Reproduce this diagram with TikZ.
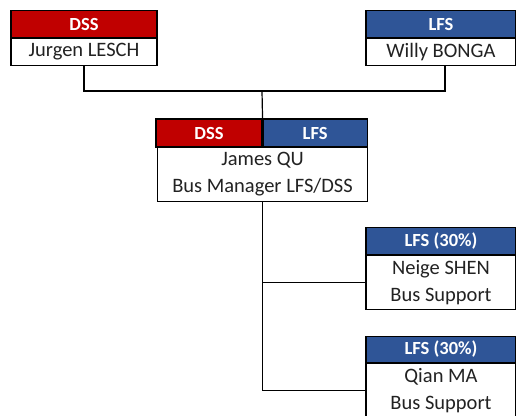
\documentclass[tikz,border=0pt]{standalone}
\usepackage{fontspec}
\setmainfont{Carlito}
\usepackage{tikz}
\usetikzlibrary{positioning,calc}
\definecolor{dssred}{HTML}{C00000}
\definecolor{lfsblue}{HTML}{2F5597}
\definecolor{txtgray}{HTML}{222222}

\begin{document}
\begin{tikzpicture}[x=1pt, y=-1pt, node distance=0pt]
  % styles
  \tikzstyle{hdr}=[rectangle, draw=black, line width=1.1pt, inner sep=0pt, minimum height=26.5pt, text=white, font=\fontsize{18.5}{20}\selectfont\bfseries];
  \tikzstyle{hdrred}=[hdr, fill=dssred];
  \tikzstyle{hdrblue}=[hdr, fill=lfsblue];
  \tikzstyle{body}=[rectangle, draw=black, line width=1.1pt, fill=white, inner sep=0pt, align=center, text=txtgray, font=\fontsize{20.5}{27}\selectfont];
  \tikzstyle{link}=[draw=black, line width=1.2pt];

  \useasboundingbox (0,0) rectangle (516,415);
  \clip (0,0) rectangle (516,415);
  \fill[white] (0,0) rectangle (516,415);

  %==================== TOP ROW ====================
  \node[hdrred, minimum width=146pt] (jurgenH) at (84,24) {DSS};
  \node[body, below=of jurgenH, minimum width=146pt, minimum height=27pt] (jurgen) {Jurgen LESCH};
  \node[hdrblue, minimum width=150pt] (willyH) at (441,24) {LFS};
  \node[body, below=of willyH, minimum width=150pt, minimum height=27pt] (willy) {Willy BONGA};

  %==================== MANAGER ====================
  \node[hdrred, minimum width=106pt, minimum height=28pt] (jamesD) at (209,133) {DSS};
  \node[hdrblue, minimum width=104pt, minimum height=28pt, right=of jamesD] (jamesL) {LFS};
  \node[body, minimum width=210pt, minimum height=54pt] (james) at ($(jamesD.south east)+(0,27)$) {James QU\\Bus Manager LFS/DSS};

  %==================== SUPPORT ====================
  \node[hdrblue, minimum width=150pt] (neigeH) at (441,241) {LFS (30\%)};
  \node[body, below=of neigeH, minimum width=150pt, minimum height=54pt] (neige) {Neige SHEN\\Bus Support};
  \node[hdrblue, minimum width=150pt] (qianH) at (441,349.5) {LFS (30\%)};
  \node[body, below=of qianH, minimum width=150pt, minimum height=54pt] (qian) {Qian MA\\Bus Support};

  % connectors
  \coordinate (mid) at (262,91);
  \draw[link] (jurgen.south) |- (mid) -| ([xshift=4pt]willy.south);
  \draw[link] (mid) -- (jamesD.north east);
  \draw[link] (james.south) |- (neige.west);
  \draw[link] (james.south) |- (qian.west);
\end{tikzpicture}
\end{document}
